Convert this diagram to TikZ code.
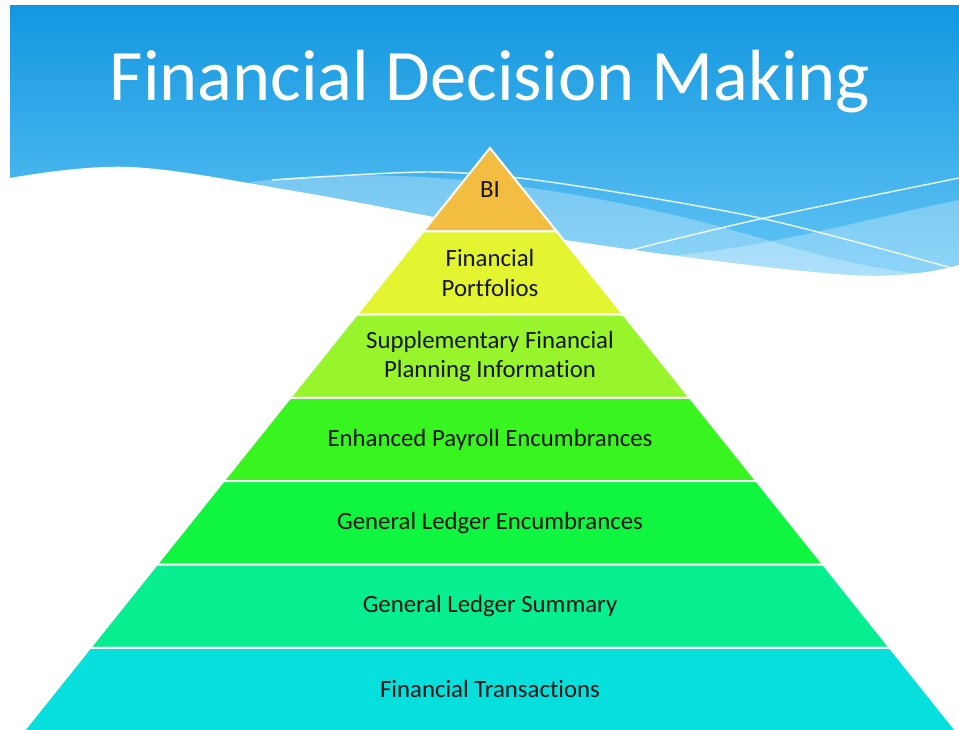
\documentclass[tikz,border=0pt]{standalone}
\usepackage{fontspec}
\setmainfont{Carlito}[Ligatures=NoCommon]
\usetikzlibrary{calc}

\definecolor{skytop}{HTML}{1297E0}
\definecolor{skybot}{HTML}{6AC9F7}
\definecolor{inktext}{HTML}{161616}
\definecolor{tierbi}{HTML}{F3BD42}
\definecolor{tierport}{HTML}{E3F431}
\definecolor{tiersupp}{HTML}{98F52C}
\definecolor{tierpay}{HTML}{38F51F}
\definecolor{tiergle}{HTML}{10F540}
\definecolor{tiergls}{HTML}{07EE90}
\definecolor{tiertrans}{HTML}{06DFDC}

\tikzset{
  tier/.style={draw=white, line width=1.5pt},
  tierlabel/.style={text=inktext, align=center, font=\fontsize{18.6}{22}\selectfont},
  glint/.style={draw=white, line width=1.1pt, opacity=0.85}
}

\begin{document}
\begin{tikzpicture}[x=0.75pt, y=-0.75pt]
    \useasboundingbox (0,0) rectangle (959,729);
    \clip (0,0) rectangle (959,729);
    \fill[white] (0,0) rectangle (959,729);

    % Sky
    \shade[top color=skytop, bottom color=skybot] (10,5) rectangle (959,300);

    % Light bands of the wave
    \fill[white, opacity=0.28] (250,182) .. controls (420,160) and (620,195) .. (777,243)
        .. controls (860,268) and (920,276) .. (959,276) -- (959,300) -- (250,300) -- cycle;
    \fill[white, opacity=0.28] (959,200) .. controls (850,222) and (720,262) .. (600,258)
        -- (600,300) -- (959,300) -- cycle;

    % White ground below the wave
    \fill[white] plot[smooth, tension=0.6] coordinates {(10,178) (130,167) (300,192) (565,240) (850,275) (959,265)}
        -- (959,729) -- (10,729) -- cycle;

    % Thin lines across the wave
    \draw[glint] plot[smooth] coordinates {(272,180) (430,172) (550,182) (760,218) (959,270)};
    \draw[glint] plot[smooth] coordinates {(623,252) (760,219) (959,178)};

    % Title
    \node[white, anchor=base, font=\fontsize{54.4}{60}\selectfont] (title) at (490,100) {Financial Decision Making};

    % Pyramid, top to bottom
    \foreach \i/\col/\txt in {0/tierbi/BI, 1/tierport/{Financial\\Portfolios},
        2/tiersupp/{Supplementary Financial\\Planning Information},
        3/tierpay/Enhanced Payroll Encumbrances, 4/tiergle/General Ledger Encumbrances,
        5/tiergls/General Ledger Summary, 6/tiertrans/Financial Transactions} {
        \pgfmathsetmacro\yt{148+83.3*\i}
        \pgfmathsetmacro\yb{148+83.3*(\i+1)}
        \pgfmathsetmacro\wt{0.8*83.3*\i}
        \pgfmathsetmacro\wb{0.8*83.3*(\i+1)}
        \filldraw[tier, fill=\col] (490-\wt,\yt) -- (490+\wt,\yt) -- (490+\wb,\yb) -- (490-\wb,\yb) -- cycle;
        \node[tierlabel] (tier\i) at (490,\yt+41.6) {\txt};
    }
\end{tikzpicture}
\end{document}
